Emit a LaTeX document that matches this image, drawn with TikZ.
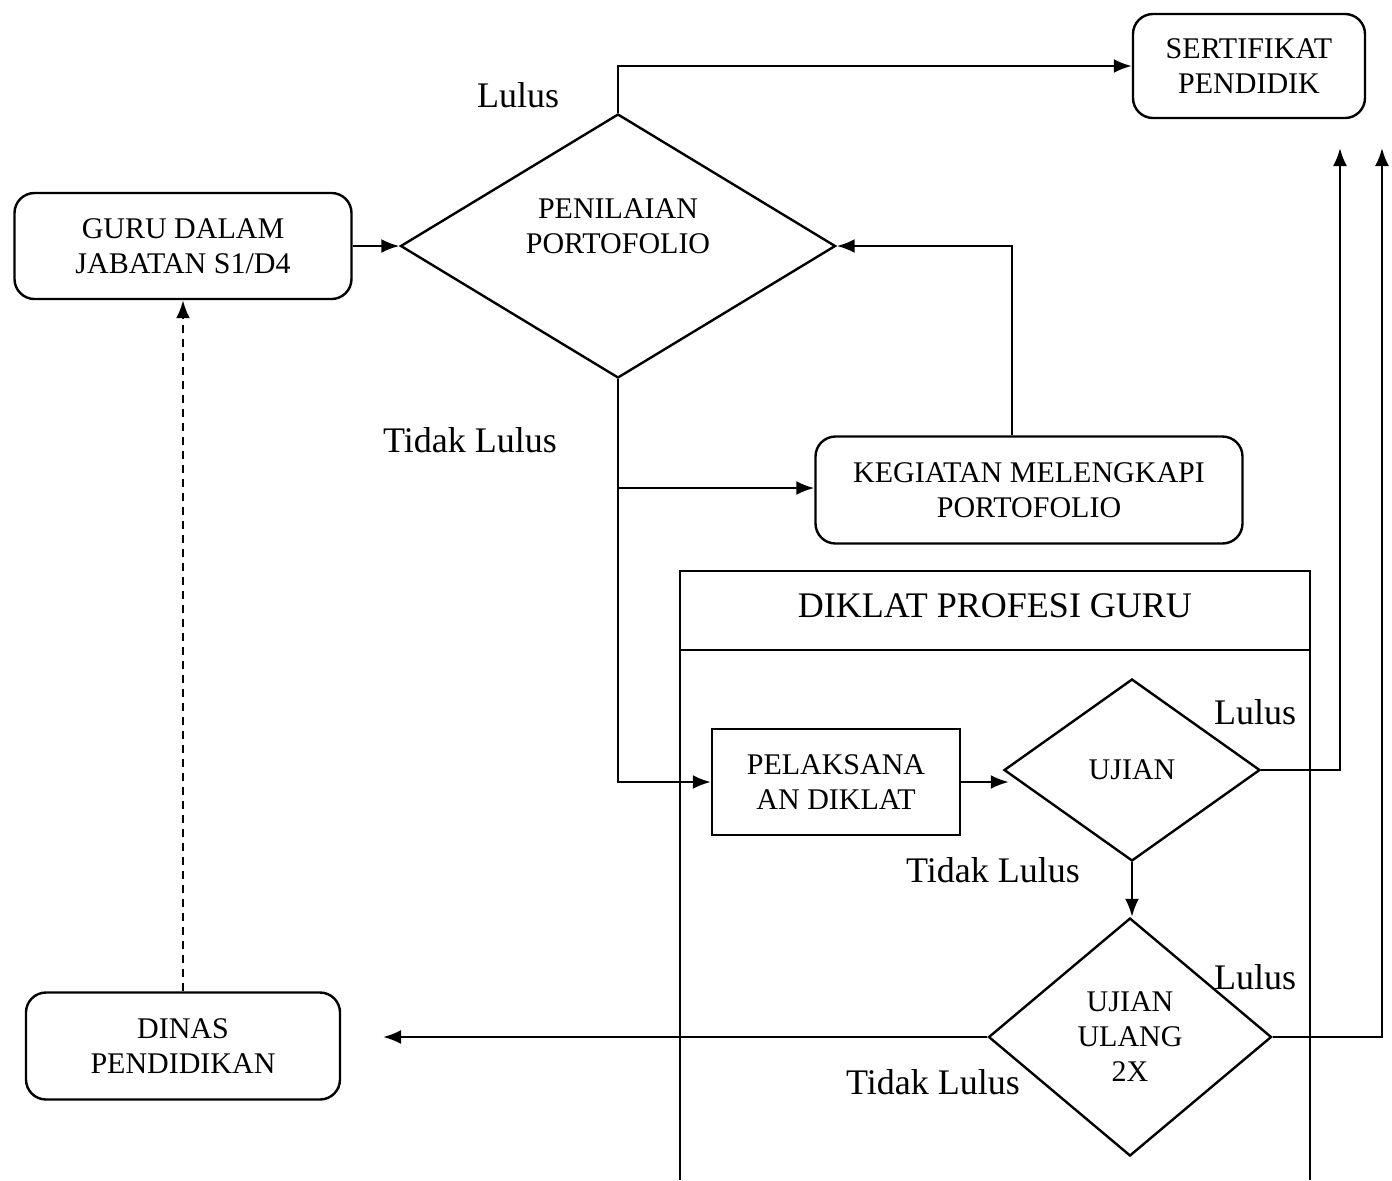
\documentclass[tikz,border=0pt]{standalone}
\usepackage{fontspec}
\setmainfont{Liberation Serif}
\usetikzlibrary{shapes.geometric,arrows.meta}
\begin{document}
\begin{tikzpicture}[x=0.5pt,y=-0.5pt,
  line width=1.2pt,
  rbox/.style={draw,rounded corners=10pt,align=center,font=\fontsize{15}{17.5}\selectfont,inner sep=2pt},
  sbox/.style={draw,align=center,font=\fontsize{15}{17.5}\selectfont,inner sep=2pt},
  dia/.style={draw,diamond,align=center,inner sep=0pt,font=\fontsize{15}{17.5}\selectfont},
  lbl/.style={font=\fontsize{18}{20}\selectfont,inner sep=0pt},
  arr/.style={-{Latex[length=9pt,width=7pt]}}]
\useasboundingbox (0,0) rectangle (1392,1180);
% nodes
\node[rbox,minimum width=168.5pt,minimum height=53pt] (guru) at (183,246) {GURU DALAM\\JABATAN S1/D4};
\node[rbox,minimum width=116pt,minimum height=52pt] (sert) at (1249,66) {SERTIFIKAT\\PENDIDIK};
\node[rbox,minimum width=213.5pt,minimum height=53.5pt] (keg) at (1029,490) {KEGIATAN MELENGKAPI\\PORTOFOLIO};
\node[sbox,minimum width=124pt,minimum height=53pt] (pel) at (836,782) {PELAKSANA\\AN DIKLAT};
\node[rbox,minimum width=157pt,minimum height=53.5pt] (dinas) at (183,1046) {DINAS\\PENDIDIKAN};
\node[dia,aspect=1.65,minimum width=217.5pt,minimum height=132pt] (pen) at (618,246) {PENILAIAN\\PORTOFOLIO\\[2pt]};
\node[dia,aspect=1.4,minimum width=128pt,minimum height=91pt] (ujian) at (1132,770) {UJIAN};
\node[dia,aspect=1.19,minimum width=141.5pt,minimum height=119pt] (uu) at (1130,1037) {UJIAN\\ULANG\\2X};
% diklat frame
\draw (680,1180) -- (680,571) -- (1310,571) -- (1310,1180);
\draw (680,650) -- (1310,650);
\node[font=\fontsize{18}{20}\selectfont,inner sep=0pt] (dtitle) at (995,606) {DIKLAT PROFESI GURU};
% coordinates
\coordinate (br) at (618,488);
\coordinate (s1) at (1340,148);
\coordinate (s2) at (1382,148);
\coordinate (d1) at (383,1037);
% connectors
\draw[arr] (guru.east) -- (pen.west);
\draw[arr] (pen.north) |- (sert.west);
\draw[arr] (pen.south) |- (pel.west);
\draw[arr] (br) -- (br -| keg.west);
\draw[arr] ([xshift=-8.5pt]keg.north) |- (pen.east);
\draw[arr] (pel.east) -- ([xshift=3pt]pel.east -| ujian.west);
\draw[arr] (ujian.east) -| (s1);
\draw[arr] (ujian.south) -- (ujian.south |- uu.north);
\draw[arr] (uu.east) -| (s2);
\draw[arr] (uu.west) -- (d1);
\draw[arr,dashed,dash pattern=on 4pt off 3pt] (dinas.north) -- (guru.south);
% labels
\node[lbl] (l1) at (518,95) {Lulus};
\node[lbl] (l2) at (470,440) {Tidak Lulus};
\node[lbl] (l3) at (1255,712) {Lulus};
\node[lbl] (l4) at (993,870) {Tidak Lulus};
\node[lbl] (l5) at (1255,977) {Lulus};
\node[lbl] (l6) at (933,1082) {Tidak Lulus};
\end{tikzpicture}
\end{document}
